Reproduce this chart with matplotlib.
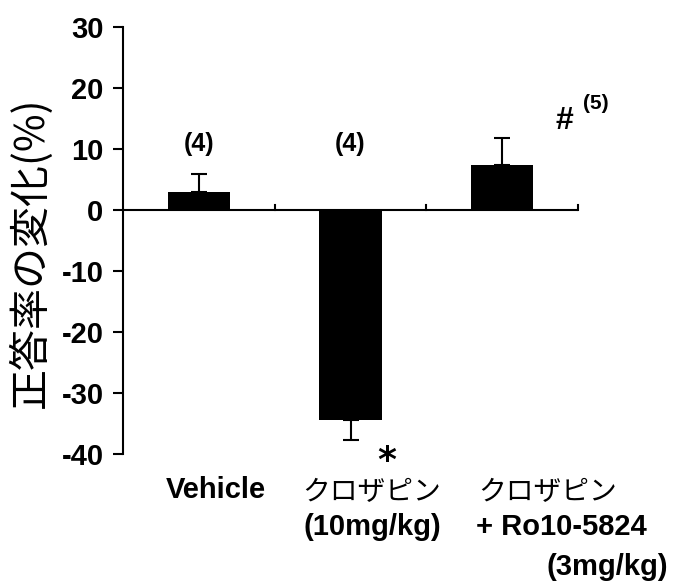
import matplotlib
matplotlib.use("Agg")
import matplotlib.pyplot as plt

categories = ["Vehicle", "クロザピン\n(10mg/kg)", "クロザピン\n+ Ro10-5824\n(3mg/kg)"]
values = [3.0, -34.5, 7.4]
errors = [2.9, 3.2, 4.4]
n_labels = ["(4)", "(4)", "(5)"]
yticks = [30, 20, 10, 0, -10, -20, -30, -40]
ylabel = "正答率の変化(%)"

fig = plt.figure(figsize=(7, 5.88), dpi=100)
ax = fig.add_axes([123/700, 1-454/588, (578-123)/700, (454-27)/588])

x = [0.5, 1.5, 2.5]
for i in range(3):
    lo = [0] if values[i] > 0 else [errors[i]]
    hi = [errors[i]] if values[i] > 0 else [0]
    ax.bar(x[i], values[i], width=0.41, color="black", zorder=2)
    ax.errorbar(x[i], values[i], yerr=[lo, hi], fmt="none", ecolor="black",
                elinewidth=1.5, capsize=6, capthick=1.5, zorder=1)

ax.set_xlim(0, 3)
ax.set_ylim(-40, 30)
for s in ["top", "right", "bottom"]:
    ax.spines[s].set_visible(False)
ax.spines["left"].set_linewidth(1.5)
ax.axhline(0, color="black", lw=1.5, zorder=3)
for xb in [1, 2, 3]:
    ax.plot([xb, xb], [0, 0.9], color="black", lw=1.5, clip_on=False)
ax.set_xticks([])
ax.set_yticks(yticks)
ax.set_yticklabels([str(t) for t in yticks], fontsize=21, fontweight="bold",
                   family="Liberation Sans")
ax.tick_params(axis="y", direction="out", length=7, width=1.5, pad=7)

jp = ["Noto Sans CJK JP", "DejaVu Sans"]
fig.text(30/700, 1-252/588, ylabel, rotation=90, ha="center", va="center",
         fontsize=29.5, family=jp)

lab = dict(ha="center", va="center", fontweight="bold", family="Liberation Sans")
# n labels
ax.text(x[0], 10.8, n_labels[0], fontsize=18, **lab)
ax.text(x[1], 10.8, n_labels[1], fontsize=18, **lab)
ax.text(x[2] + 0.62, 17.4, n_labels[2], fontsize=15, **lab)
ax.text(x[2] + 0.41, 14.6, "#", fontsize=23, **lab)
ax.text(x[1] + 0.24, -40.8, r"$\mathbf{*}$", fontsize=26, ha="center", va="center")

# category labels
bold = dict(fontsize=21, fontweight="bold", family="Liberation Sans")
kat = dict(fontsize=20, family=jp)
fig.text(216/700, 1-490/588, "Vehicle", ha="center", va="center", **bold)
fig.text(372/700, 1-492/588, "クロザピン", ha="center", va="center", **kat)
fig.text(372/700, 1-527/588, "(10mg/kg)", ha="center", va="center", **bold)
fig.text(548/700, 1-492/588, "クロザピン", ha="center", va="center", **kat)
fig.text(476/700, 1-527/588, "+ Ro10-5824", ha="left", va="center", **bold)
fig.text(668/700, 1-567/588, "(3mg/kg)", ha="right", va="center", **bold)

fig.savefig("out.png", dpi=100)
